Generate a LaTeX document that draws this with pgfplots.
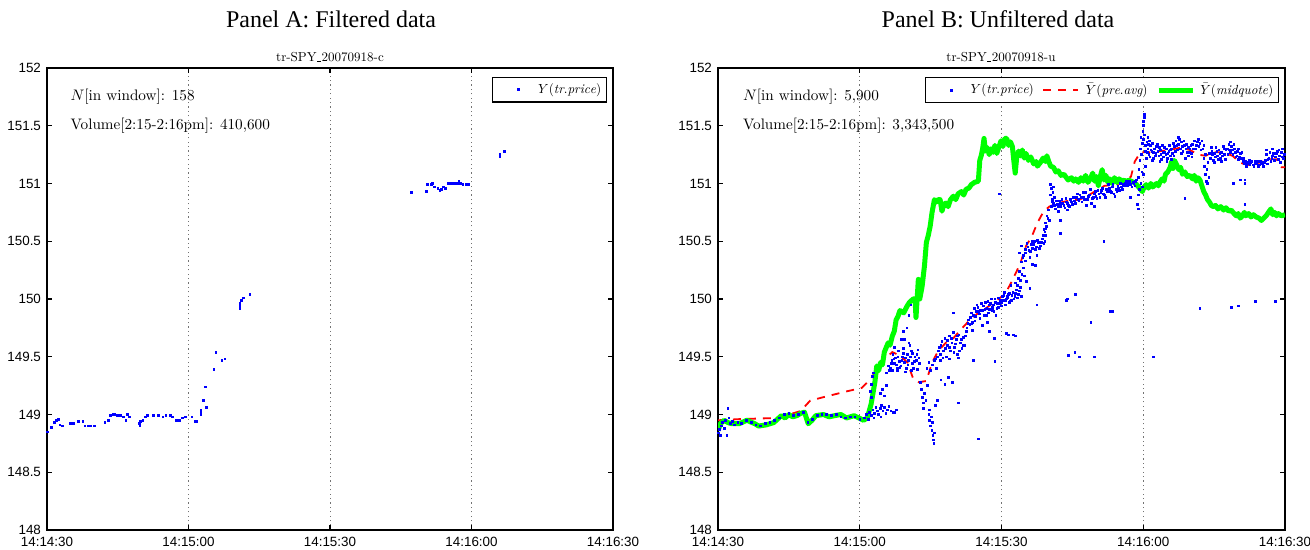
\documentclass[border=0pt]{standalone}
\usepackage{pgfplots}
\usepackage{graphicx}
\pgfplotsset{compat=1.18}
\usepackage{fontspec}
\newfontfamily\titlefont{Liberation Serif}
\newfontfamily\tickfont{Liberation Sans}
\definecolor{mblue}{RGB}{0,0,255}
\definecolor{mgreen}{RGB}{0,255,0}
\definecolor{mred}{RGB}{255,0,0}
\newcommand{\us}{\kern0.5pt\rule[-0.6pt]{3pt}{0.4pt}\kern0.5pt}
\newcommand{\lgd}[1]{\scalebox{0.66}{#1}}
\newcommand{\tx}[1]{\scalebox{0.76}{#1}}
\pgfplotsset{
 mstyle/.style={
  scale only axis, height=231pt,
  xmin=0,xmax=120,ymin=148,ymax=152,
  xtick={0,30,60,90,120},
  xticklabels={14:14:30,14:15:00,14:15:30,14:16:00,14:16:30},
  ytick={148,148.5,149,149.5,150,150.5,151,151.5,152},
  yticklabels={148,148.5,149,149.5,150,150.5,151,151.5,152},
  tick label style={font=\tickfont\fontsize{6.7}{7}\selectfont},
  yticklabel style={xshift=0.5pt},
  xmajorgrids, major grid style={black!55, dash pattern=on 0.6pt off 1.6pt, line width=0.5pt},
  axis line style={line width=0.8pt},
  major tick length=2.5pt,
  every tick/.style={black, line width=0.6pt},
  tick align=inside, xtick pos=both, ytick pos=both,
  xticklabel pos=lower, yticklabel pos=left,
  legend cell align=left,
  legend style={at={(rel axis cs:0.99,0.98)}, anchor=north east, line width=0.6pt,
    font=\normalsize, inner sep=1.5pt, row sep=0pt, nodes={inner sep=1.3pt}},
 },
 dots/.style={only marks, mark=square*, mark size=0.42pt, color=mblue, mark options={draw=none, fill=mblue},
   legend image code/.code={\path[draw=none,fill=none] (0pt,0pt) -- (20pt,0pt); \fill[mblue] (11.1pt,-0.4pt) rectangle (11.9pt,0.4pt);}},
}
\begin{document}
\begin{tikzpicture}
\path[use as bounding box] (0,0) rectangle (655pt,275pt);
\node[font=\titlefont\fontsize{12}{14}\selectfont] at (165.5pt,265.5pt) {Panel A: Filtered data};
\node[font=\titlefont\fontsize{12}{14}\selectfont] at (499pt,265.5pt) {Panel B: Unfiltered data};
\node at (165pt,246.5pt) {\scalebox{0.65}{tr-SPY\us20070918-c}};
\node at (500.5pt,246.5pt) {\scalebox{0.65}{tr-SPY\us20070918-u}};

% Panel A
\begin{axis}[mstyle, width=283pt, at={(23.5pt,10pt)}, anchor=south west]
\addplot[dots] coordinates {
(0.06,148.85)(1.0,148.89)(1.5,148.93)(2.05,148.95)(2.4,148.96)(2.75,148.91)(3.3,148.90)
(4.9,148.92)(5.6,148.92)(6.6,148.94)(7.6,148.94)(8.05,148.90)(8.75,148.90)(9.2,148.90)
(10.0,148.90)(12.3,148.93)(13.0,148.95)(13.5,148.99)(14.0,149.00)(14.4,149.00)(14.9,148.99)
(15.5,148.99)(16.2,148.98)(16.7,148.95)(17.0,149.00)(17.4,148.98)(19.6,148.92)(19.7,148.90)
(19.8,148.94)(20.3,148.95)(20.8,148.98)(21.3,148.99)(22.5,148.99)(23.6,148.99)(24.6,148.98)
(25.2,148.99)(26.1,148.99)(26.6,148.98)(27.5,148.95)(28.0,148.95)(28.7,148.97)(29.4,148.98)
(30.7,148.98)(31.4,148.94)(31.8,148.94)(32.6,149.00)(32.6,149.02)(32.6,149.04)(33.1,149.12)
(33.6,149.24)(33.8,149.06)(35.4,149.39)(35.8,149.54)(37.1,149.47)(37.7,149.48)(40.9,149.92)
(40.9,149.94)(40.9,149.96)(41.2,149.99)(41.6,150.01)(43.0,150.04)
(77.3,150.92)(80.4,150.93)(80.6,150.99)(81.5,150.99)(81.7,151.00)(82.2,150.97)(82.9,150.96)
(83.3,150.94)(83.6,150.95)(84.0,150.97)(84.5,150.96)(85.0,151.00)(85.3,151.00)(85.6,151.00)(86.0,151.00)
(86.3,151.00)(86.6,151.00)(87.0,151.00)(87.3,151.02)(87.6,151.00)(88.2,150.99)(88.8,150.99)(89.4,150.99)
(96.0,151.23)(96.0,151.25)(97.0,151.28)
};
\addlegendentry{\lgd{$Y(\mathit{tr.price})$}}
\node[anchor=west] at (axis cs:3.5,151.75) {\tx{$N$[in window]: 158}};
\node[anchor=west] at (axis cs:3.5,151.50) {\tx{Volume[2:15-2:16pm]: 410,600}};
\end{axis}

% Panel B
\begin{axis}[mstyle, width=283.5pt, at={(359pt,10pt)}, anchor=south west,
  legend columns=3, legend style={/tikz/every even column/.append style={column sep=3pt}}]
\addplot[dots] coordinates {
(0.1,148.84)(0.3,148.87)(0.5,148.82)(0.7,148.90)(1.0,148.93)(1.3,148.88)(1.6,148.95)(1.9,148.82)
(2.1,149.05)(2.3,148.97)(2.6,148.92)(3.0,148.94)(3.5,148.91)(4.2,148.93)(5.0,148.92)(6.0,148.95)
(7.0,148.93)(8.0,148.91)(9.0,148.90)(10.0,148.92)(11.0,148.93)(12.0,148.95)(13.0,148.97)(14.0,149.00)
(15.0,149.01)(16.0,148.99)(17.0,149.00)(18.0,149.02)(19.0,148.93)(20.0,148.96)(21.0,148.99)(22.0,149.00)
(23.0,149.00)(24.0,148.99)(25.0,149.00)(26.0,148.98)(27.0,148.97)(28.0,148.98)(29.0,148.98)(30.0,148.96)
(31.0,148.97)(31.4,149.00)(31.8,148.96)(32.1,149.02)(32.5,148.99)(32.8,149.04)(33.1,149.01)(33.4,149.06)
(33.7,149.03)(34.0,149.00)(34.3,149.05)(34.6,149.08)(34.9,149.03)(35.2,149.06)(35.5,149.01)(35.8,149.04)
(36.2,149.07)(36.6,149.03)(37.1,149.02)(33.0,148.97)(34.5,148.98)(37.3,149.02)(37.8,149.04)
(32.3,149.20)(32.5,149.26)(32.7,149.33)(32.9,149.36)(32.4,149.15)
(34.4,149.18)(34.8,149.22)(35.2,149.16)(35.6,149.25)(35.6,149.36)(36.0,149.42)(36.3,149.38)
(36.5,149.40)(36.8,149.47)(37.0,149.52)(37.3,149.44)(37.6,149.49)(37.9,149.40)(38.2,149.55)(38.4,149.46)
(38.7,149.42)(39.0,149.50)(39.2,149.57)(39.5,149.45)(39.8,149.40)(40.1,149.52)(40.3,149.47)(40.6,149.60)
(40.9,149.55)(41.1,149.44)(41.4,149.40)(41.7,149.50)(42.0,149.47)(42.3,149.56)(42.6,149.44)(36.9,149.38)
(38.0,149.38)(39.6,149.37)(41.0,149.38)(42.2,149.39)(37.4,149.58)(40.4,149.62)
(36.7,149.44)(37.2,149.48)(37.7,149.43)(38.1,149.50)(38.5,149.41)(38.9,149.47)(39.3,149.53)(39.7,149.49)
(40.2,149.43)(40.7,149.50)(41.2,149.53)(41.6,149.46)(42.1,149.52)(42.5,149.49)
(39.5,149.65)(40.0,149.75)(40.4,149.86)(40.8,149.95)(38.8,149.65)(39.3,149.72)
(42.9,149.28)(43.1,149.22)(43.2,149.15)(43.4,149.10)(43.5,149.05)
(44.6,149.00)(44.8,148.95)(45.0,148.90)(45.2,148.98)(45.3,148.86)(45.5,148.82)(45.6,148.78)(45.7,148.75)
(45.8,148.84)(45.4,148.93)(44.7,149.04)(43.7,149.18)(44.0,149.12)(44.3,149.25)
(47.2,149.30)(48.0,149.26)(48.8,149.32)(49.6,149.28)(46.0,149.08)(46.4,149.12)
(44.2,149.40)(44.6,149.45)(45.0,149.38)(45.4,149.43)(45.8,149.47)(46.2,149.40)
(46.5,149.50)(46.8,149.58)(47.1,149.52)(47.4,149.63)(47.7,149.55)(48.0,149.66)(48.3,149.50)(48.6,149.60)
(48.9,149.68)(49.2,149.55)(49.5,149.62)(49.8,149.71)(50.1,149.58)(50.4,149.65)(50.7,149.52)(51.0,149.69)
(51.3,149.62)(51.6,149.57)(51.9,149.67)(52.2,149.60)(52.5,149.72)(47.0,149.47)(49.0,149.48)(50.9,149.49)
(46.0,149.48)(46.6,149.55)(47.2,149.60)(47.6,149.49)(48.1,149.57)(48.5,149.64)(49.0,149.58)(49.4,149.66)
(49.9,149.54)(50.3,149.61)(50.6,149.68)(51.1,149.55)(51.5,149.65)(51.8,149.60)(52.3,149.68)
(52.7,149.75)(53.0,149.82)(53.3,149.78)(53.6,149.88)(53.9,149.80)(54.2,149.92)(54.5,149.85)(54.8,149.95)
(55.1,149.89)(55.4,149.83)(55.7,149.96)(56.0,149.90)(56.3,149.86)(56.6,149.97)(56.9,149.92)(57.2,149.88)
(57.5,149.95)(57.8,150.00)(58.1,149.93)(58.4,149.89)(58.7,149.97)(59.0,149.92)(59.3,150.01)(59.6,149.96)
(53.8,149.73)(55.9,149.77)(57.0,149.80)(58.8,149.86)
(52.9,149.79)(53.4,149.84)(53.7,149.79)(54.0,149.86)(54.4,149.81)(54.7,149.89)(55.0,149.93)(55.3,149.87)
(55.6,149.90)(56.1,149.94)(56.5,149.91)(56.8,149.86)(57.1,149.98)(57.4,149.91)(57.7,149.96)(58.0,149.90)
(58.3,149.95)(58.6,150.00)(59.1,149.96)(59.4,149.93)(59.8,149.99)(60.1,149.97)(60.5,150.03)(60.9,149.99)
(61.3,150.02)(61.7,150.05)(62.1,149.99)(62.4,150.06)(62.8,150.02)(63.2,150.08)(63.6,150.04)
(60.0,149.94)(60.4,149.99)(60.8,149.95)(61.2,150.01)(61.6,149.97)
(60.2,150.02)(60.6,150.06)(61.0,150.00)(61.4,150.04)(61.8,149.98)(62.2,150.03)(62.6,150.00)(63.0,150.05)
(63.4,150.01)(63.8,150.07)(64.2,150.02)(62.0,150.12)(63.0,150.14)(64.0,150.10)
(63.4,150.12)(63.6,150.18)(63.8,150.24)(64.0,150.16)(64.3,150.21)(64.6,150.27)(64.9,150.20)(65.2,150.15)
(64.2,150.32)(64.5,150.36)
(63.8,150.40)(64.2,150.46)(64.6,150.38)(65.0,150.43)(65.4,150.48)(65.8,150.42)(66.2,150.47)(66.6,150.44)
(67.0,150.50)(67.4,150.45)(67.8,150.49)(68.2,150.46)(68.6,150.52)(69.0,150.48)(69.4,150.55)(66.0,150.36)
(65.0,150.33)(67.5,150.38)(66.5,150.30)(67.2,150.29)
(65.1,150.40)(65.6,150.45)(66.1,150.41)(66.4,150.50)(66.8,150.47)(67.2,150.43)(67.6,150.51)(68.0,150.44)
(68.4,150.49)(68.8,150.55)(69.2,150.50)(69.5,150.63)(69.8,150.70)
(69.0,150.60)(69.3,150.66)(69.6,150.72)(69.9,150.77)(70.1,150.68)(69.2,150.58)(69.4,150.61)
(70.4,150.90)(70.5,150.96)(70.7,150.86)(70.9,150.92)(71.2,150.88)(70.4,150.99)(71.0,150.97)
(72.4,150.68)(72.4,150.57)
(70.6,150.80)(71.0,150.83)(71.4,150.78)(71.8,150.82)(72.2,150.85)(72.6,150.80)(73.0,150.83)(73.4,150.79)
(73.8,150.84)(74.2,150.81)(74.6,150.86)(75.0,150.82)(75.4,150.85)(75.8,150.88)(72.0,150.76)(74.0,150.77)
(70.8,150.84)(71.2,150.81)(71.6,150.85)(72.0,150.80)(72.4,150.83)(72.8,150.86)(73.2,150.81)(73.6,150.87)
(74.0,150.83)(74.4,150.80)(74.8,150.84)(75.2,150.88)(75.6,150.83)(76.0,150.91)(76.4,150.85)(76.8,150.88)
(77.2,150.92)(77.6,150.86)(78.4,150.89)(78.8,150.95)(79.2,150.87)(79.6,150.91)(80.0,150.89)(80.4,150.94)
(80.8,150.88)(81.2,150.94)(81.6,150.91)(82.4,150.93)(82.8,150.96)(83.2,150.92)(83.6,150.99)(84.4,150.93)
(84.8,150.96)(85.2,151.00)(85.6,150.95)(86.0,150.98)(86.4,151.02)(86.8,150.99)(87.2,151.01)(87.6,150.97)
(88.0,151.00)(88.4,151.02)
(76.2,150.86)(76.6,150.90)(77.0,150.84)(77.4,150.88)(77.8,150.92)(78.2,150.86)(78.6,150.90)(79.0,150.83)
(79.4,150.88)(79.8,150.93)(80.2,150.87)(80.6,150.91)(78.0,150.81)(79.6,150.80)
(81.0,150.92)(81.4,150.96)(81.8,150.90)(82.2,150.95)(82.6,150.99)(83.0,150.93)(83.4,150.97)(83.8,150.91)
(84.2,150.95)(84.6,150.98)(85.0,150.94)(85.4,150.97)(85.8,150.99)(82.0,150.88)(84.0,150.89)
(86.2,151.00)(86.6,150.98)(87.0,151.02)(87.4,150.99)(87.8,151.01)(88.2,150.98)(88.6,151.03)
(88.8,150.82)(88.9,150.90)(89.0,151.05)(89.1,151.12)(89.2,150.95)(89.3,151.20)(89.4,151.30)(89.5,151.40)
(89.6,151.25)(89.7,151.10)(89.8,151.35)(89.9,151.45)(90.0,151.38)(90.1,151.50)(90.2,151.57)(90.2,151.60)
(90.1,151.54)(90.3,151.42)(90.4,151.33)(90.5,151.28)(90.6,151.22)(89.0,150.78)(89.5,151.00)(90.0,151.08)
(90.4,151.15)(89.8,150.97)
(90.8,151.36)(91.0,151.30)(91.2,151.25)(91.5,151.33)(91.8,151.28)(92.1,151.22)(92.4,151.30)(92.7,151.26)
(93.0,151.34)(93.3,151.24)(93.6,151.29)(93.9,151.21)(94.2,151.27)(94.5,151.31)(94.8,151.25)(95.1,151.22)
(95.4,151.28)(95.7,151.24)(96.0,151.30)(96.3,151.35)(91.0,151.40)(91.3,151.37)(92.0,151.20)(93.5,151.19)
(95.0,151.19)(96.0,151.21)
(90.9,151.27)(91.1,151.34)(91.4,151.23)(91.6,151.29)(91.9,151.35)(92.2,151.27)(92.5,151.24)(92.8,151.32)
(93.1,151.28)(93.4,151.31)(93.7,151.25)(94.0,151.33)(94.3,151.23)(94.6,151.27)(94.9,151.30)(95.2,151.26)
(95.5,151.33)(95.8,151.29)(96.1,151.26)(96.8,151.28)(97.1,151.33)(97.6,151.38)(98.0,151.26)(98.3,151.32)
(98.6,151.37)(99.1,151.34)(99.5,151.31)(99.8,151.27)(100.1,151.33)(100.6,151.30)(101.4,151.36)(101.8,151.32)
(102.6,151.30)(104.0,151.26)(104.4,151.31)(104.7,151.25)(105.3,151.23)(105.6,151.28)(105.9,151.21)
(106.2,151.26)(106.8,151.24)(107.1,151.30)(107.4,151.21)(107.9,151.25)(108.2,151.29)(108.9,151.29)
(109.2,151.34)(109.5,151.27)(109.8,151.24)(110.1,151.30)(110.4,151.23)(110.9,151.27)(111.3,151.22)
(111.6,151.19)(112.0,151.17)(112.4,151.20)(112.8,151.18)(113.2,151.16)(113.6,151.19)(114.0,151.17)
(114.4,151.15)(114.8,151.19)(115.2,151.17)(115.6,151.18)(116.4,151.21)(117.2,151.22)(118.0,151.23)
(118.8,151.24)(119.6,151.22)(116.1,151.29)(117.3,151.30)(118.7,151.29)(119.5,151.30)
(96.6,151.32)(96.9,151.37)(97.2,151.29)(97.5,151.34)(97.8,151.30)(98.1,151.36)(98.4,151.28)(98.7,151.33)
(99.0,151.30)(99.3,151.27)(99.6,151.24)(99.9,151.30)(100.2,151.26)(96.5,151.24)(97.4,151.40)(98.9,151.22)
(100.3,151.23)(96.4,151.35)
(100.4,151.34)(100.8,151.37)(101.2,151.33)(101.6,151.38)(102.0,151.35)(102.4,151.37)(102.8,151.33)
(101.0,151.30)(102.2,151.29)
(102.8,151.22)(103.0,151.15)(103.2,151.08)(103.3,151.02)(103.5,151.12)(103.7,151.18)(103.9,151.05)
(103.1,151.25)(103.6,151.00)
(104.2,151.22)(104.5,151.28)(104.8,151.20)(105.1,151.26)(105.4,151.31)(105.7,151.24)(106.0,151.29)
(106.3,151.22)(106.6,151.27)(106.9,151.32)(107.2,151.25)(107.5,151.29)(105.0,151.18)(106.5,151.19)
(107.8,151.30)(108.1,151.34)(108.4,151.27)(108.7,151.32)(109.0,151.25)(109.3,151.30)(109.6,151.23)
(109.9,151.28)(110.2,151.21)(110.5,151.26)(110.8,151.22)(111.1,151.19)(108.5,151.36)
(111.4,151.17)(111.8,151.15)(112.2,151.18)(112.6,151.16)(113.0,151.19)(113.4,151.15)(113.8,151.17)
(114.2,151.19)(114.6,151.16)(115.0,151.18)(115.4,151.15)(115.8,151.20)(116.2,151.17)(116.6,151.22)
(117.0,151.19)(117.4,151.24)(117.8,151.20)(118.2,151.26)(118.6,151.21)(119.0,151.18)(119.4,151.23)
(119.8,151.25)(116.0,151.25)(116.8,151.27)(117.6,151.26)(118.4,151.28)(119.2,151.27)
(110.5,151.03)(109.1,151.00)(111.5,151.03)(111.5,151.00)(98.8,150.87)(111.5,150.82)(102.0,149.92)
(108.7,149.93)(110.1,149.94)(113.7,149.98)(117.9,149.98)(81.7,150.50)(73.9,150.00)(75.7,150.04)
(83.4,149.89)(78.9,149.80)(74.1,149.51)(75.5,149.54)(76.5,149.50)(79.7,149.50)(92.1,149.50)(87.3,150.88)
(61.5,149.69)(62.9,149.68)(55.1,148.79)(59.6,150.91)(50.9,149.10)(58.6,149.46)(54.0,149.47)
(61.1,149.70)(62.5,149.69)(49.8,149.88)(66.0,150.09)(67.5,149.95)(73.8,149.99)(83.0,149.89)
(57.5,149.72)(58.5,149.66)
};
\addlegendentry{\lgd{$Y(\mathit{tr.price})$}}
\addplot[color=mred, draw=mred, line width=0.9pt, dash pattern=on 4pt off 3.5pt,
  legend image code/.code={\path[draw=none] (0pt,0pt) -- (20pt,0pt); \draw[mred, line width=0.9pt, dash pattern=on 4pt off 3.5pt] (0pt,0pt) -- (17.5pt,0pt);}] coordinates {
(0,148.95)(4.5,148.96)(12.6,148.97)(17.5,149.03)(19.5,149.12)(22.3,149.15)(27.2,149.20)(30.4,149.23)
(32.4,149.31)(34.4,149.45)(36.9,149.54)(38.5,149.51)(40.1,149.45)(41.3,149.31)(42.5,149.28)(44.1,149.29)
(45.3,149.45)(46.6,149.55)(48.2,149.62)(49.8,149.66)(51.5,149.74)(53.1,149.81)(55.1,149.88)(56.7,149.92)
(58.7,149.98)(60.7,150.04)(61.9,150.13)(63.2,150.24)(64.0,150.31)(65.2,150.46)(66.4,150.54)(67.6,150.66)
(68.8,150.75)(70.1,150.80)(72.0,150.83)(74.1,150.85)(76.5,150.86)(78.1,150.89)(79.7,150.93)(81.8,150.98)
(84.2,150.99)(86.2,151.02)(87.4,151.06)(88.2,151.19)(89.4,151.27)(91.5,151.27)(93.5,151.28)(95.5,151.29)
(97.9,151.31)(99.9,151.29)(101.6,151.25)(103.2,151.24)(104.8,151.27)(106.8,151.27)(108.9,151.24)
(110.5,151.18)(112.1,151.16)(114.5,151.18)(117.0,151.21)(118.2,151.21)(119.3,151.14)(120,151.14)
};
\addlegendentry{\lgd{$\bar{Y}(\mathit{pre.avg})$}}
\addplot[color=mgreen, draw=mgreen, line width=2.5pt, line join=round,
  legend image code/.code={\path[draw=none] (0pt,0pt) -- (19.5pt,0pt); \draw[mgreen, line width=2.5pt] (0pt,0pt) -- (17pt,0pt);}] coordinates {
(0,148.86)(0.5,148.92)(1.3,148.95)(2.1,148.93)(2.9,148.92)(4.5,148.92)(6.1,148.95)(7.8,148.92)
(8.6,148.90)(10.2,148.91)(11.8,148.93)(13.4,148.99)(14.2,148.97)(15.0,149.00)(15.8,148.98)(16.7,148.99)
(17.5,149.01)(18.3,149.02)(19.1,148.92)(19.9,148.95)(20.7,148.99)(22.3,149.00)(23.5,148.98)(24.7,148.99)
(26.0,149.00)(27.2,148.97)(28.8,148.99)(30.8,148.95)(31.6,148.97)
(32.4,149.09)(33.2,149.28)(33.6,149.42)(34.0,149.38)(34.4,149.45)(34.8,149.43)(35.2,149.54)(35.6,149.58)
(36.0,149.62)(36.4,149.60)(36.9,149.68)(37.3,149.72)(37.7,149.82)(38.1,149.85)(38.5,149.90)(39.3,149.88)
(39.9,149.93)(40.5,149.97)(41.3,150.00)(41.7,150.00)(41.9,149.84)(42.4,150.17)(42.7,150.00)
(43.2,150.11)(43.7,150.29)(44.1,150.49)(44.5,150.55)(44.9,150.63)(45.3,150.75)(45.8,150.86)(46.2,150.84)
(46.6,150.86)(47.0,150.86)(47.4,150.76)(47.8,150.82)(48.2,150.83)(48.7,150.80)(49.2,150.86)(49.8,150.89)
(50.3,150.86)(50.8,150.91)(51.5,150.93)(52.0,150.90)(52.5,150.95)(53.1,150.96)(53.6,150.99)(54.3,151.01)
(55.1,151.02)(55.4,151.20)(55.7,151.24)(56.0,151.30)(56.3,151.39)(56.6,151.28)(57.0,151.31)(57.4,151.25)
(57.8,151.30)(58.2,151.27)(58.6,151.33)(59.0,151.26)(59.4,151.31)(59.9,151.37)(60.3,151.32)(60.7,151.39)
(61.1,151.39)(61.5,151.33)(61.9,151.36)(62.3,151.32)(62.6,151.20)(62.9,151.09)(63.2,151.22)(63.6,151.28)
(64.0,151.24)(64.4,151.29)(64.8,151.22)(65.2,151.26)(65.7,151.20)(66.2,151.23)(66.8,151.17)(67.3,151.19)
(67.6,151.15)(68.2,151.18)(68.8,151.22)(69.3,151.19)(69.6,151.24)(70.0,151.19)(70.4,151.15)(71.0,151.14)
(71.5,151.10)(72.0,151.11)(72.6,151.07)(73.2,151.08)(74.1,151.03)(74.8,151.05)(75.3,151.02)(75.7,151.04)
(76.3,151.01)(76.8,151.05)(77.3,151.02)(77.8,151.07)(78.3,151.01)(78.8,151.04)(79.3,151.09)(79.7,151.02)
(80.1,151.06)(80.5,150.98)(80.9,151.06)(81.3,151.12)(81.7,151.03)(82.1,151.07)(82.5,151.01)(82.9,151.04)
(83.4,151.00)(83.9,151.05)(84.4,151.01)(84.9,151.04)(85.4,151.02)(85.9,151.03)(86.4,151.01)(86.9,151.03)
(87.4,151.02)(88.0,151.01)(88.6,150.99)(89.2,150.96)(89.8,150.93)(90.2,150.97)(90.6,150.99)(91.1,150.96)
(91.6,151.00)(92.0,150.97)(92.3,150.98)(92.8,151.00)(93.2,150.98)(93.5,151.01)(94.0,151.04)(94.4,151.02)
(94.7,151.08)(95.2,151.10)(95.7,151.14)(96.0,151.19)(96.3,151.13)(96.6,151.20)(97.1,151.16)(97.5,151.12)
(97.9,151.14)(98.3,151.08)(98.8,151.10)(99.3,151.06)(99.9,151.07)(100.4,151.04)(100.8,151.07)(101.2,151.02)
(101.6,151.05)(102.0,151.03)(102.4,150.98)(102.8,150.93)(103.2,150.90)(103.6,150.86)(104.0,150.84)
(104.4,150.81)(104.8,150.80)(105.3,150.81)(105.8,150.78)(106.4,150.80)(107.0,150.77)(107.5,150.79)
(108.1,150.76)(108.6,150.77)(109.2,150.74)(109.7,150.72)(110.1,150.74)(110.5,150.70)(111.0,150.72)
(111.4,150.75)(111.7,150.72)(112.3,150.74)(112.8,150.71)(113.3,150.73)(113.9,150.71)(114.5,150.70)
(115.0,150.68)(115.5,150.70)(116.0,150.72)(116.5,150.75)(117.0,150.78)(117.4,150.73)(117.8,150.75)
(118.2,150.72)(118.6,150.74)(119.2,150.72)(120,150.73)
};
\addlegendentry{\lgd{$\bar{Y}(\mathit{midquote})$}}
\node[anchor=west] at (axis cs:3.8,151.75) {\tx{$N$[in window]: 5,900}};
\node[anchor=west] at (axis cs:3.8,151.50) {\tx{Volume[2:15-2:16pm]: 3,343,500}};
\end{axis}
\end{tikzpicture}
\end{document}
